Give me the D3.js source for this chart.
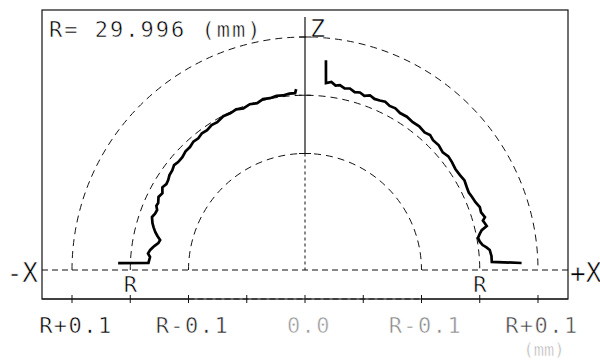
<!DOCTYPE html>
<html>
<head>
<meta charset="utf-8">
<script src="https://cdn.jsdelivr.net/npm/d3@7"></script>
<style>
  body { margin: 0; background: #fff; }
  text { font-family: 'DejaVu Sans Mono', monospace; stroke: #fff; stroke-width: 0.55px; }
</style>
</head>
<body>
<div id="chart"></div>
<script>
// radius of the part
const title = 'R= 29.996 (mm)';

// reference rings, deviation from R in mm
const rings = [0.1, 0, -0.1];

// bottom scale: signed position (mm from centre ring), label, colour of the scan
const xTicks = [-0.4, -0.3, -0.2, -0.1, 0, 0.1, 0.2, 0.3, 0.4];
const xLabels = ['R+0.1', 'R-0.1', '0.0', 'R-0.1', 'R+0.1'];
const xLabelPos = [-0.4, -0.2, 0, 0.2, 0.4];
const xLabelTone = ['#000', '#222', '#999', '#888', '#444'];

// measured profile, [angle deg from +X, deviation mm]
const leftProfile = [
  [177.9, 0.021], [177.4, -0.031], [175.2, -0.033], [174.0, -0.029], [172.6, -0.032],
  [171.0, -0.038], [169.6, -0.044], [168.3, -0.046], [167.0, -0.040], [165.8, -0.035],
  [164.3, -0.030], [162.9, -0.026], [160.9, -0.022], [159.4, -0.025], [157.9, -0.026],
  [156.6, -0.022], [155.5, -0.023], [153.5, -0.019], [151.7, -0.022], [149.9, -0.017],
  [148.2, -0.020], [146.7, -0.019], [145.0, -0.016], [143.1, -0.015], [141.3, -0.012],
  [139.6, -0.014], [137.4, -0.014], [135.2, -0.011], [133.1, -0.011], [131.0, -0.008],
  [129.0, -0.009], [127.0, -0.006], [125.0, -0.007], [122.8, -0.004], [120.7, -0.005],
  [118.0, -0.001], [115.5, -0.002], [113.2, 0.000], [110.9, -0.003], [108.4, 0.000],
  [106.0, -0.002], [103.8, 0.002], [101.5, 0.001], [99.3, 0.003], [97.2, 0.002],
  [95.1, 0.004], [93.2, 0.004], [92.8, 0.011]
];
const rightProfile = [
  [84.3, 0.062], [83.6, 0.023], [82.0, 0.026], [80.6, 0.021], [79.3, 0.023],
  [77.7, 0.019], [76.1, 0.021], [74.4, 0.017], [72.8, 0.019], [71.2, 0.016],
  [69.6, 0.020], [67.9, 0.017], [66.2, 0.018], [64.5, 0.020], [62.7, 0.017],
  [60.8, 0.018], [58.8, 0.015], [56.4, 0.016], [53.9, 0.014], [51.5, 0.015],
  [49.0, 0.013], [47.2, 0.016], [45.4, 0.013], [43.0, 0.014], [40.5, 0.011],
  [38.4, 0.014], [36.3, 0.013], [33.9, 0.011], [31.5, 0.012], [29.3, 0.014],
  [27.1, 0.012], [25.3, 0.011], [23.6, 0.013], [21.7, 0.015], [19.8, 0.019],
  [18.1, 0.018], [16.4, 0.022], [15.5, 0.017], [14.6, 0.019], [13.6, 0.021],
  [12.7, 0.011], [11.6, 0.006], [10.5, 0.002], [9.2, 0.004], [8.0, 0.008],
  [7.1, 0.014], [6.2, 0.019], [4.3, 0.021], [2.5, 0.021], [1.85, 0.072]
];

const width = 600, height = 360;
const frame = {left: 42, top: 10, right: 568, bottom: 299};
const cx = 305, cy = 270;

const svg = d3.select('#chart')
  .append('svg')
  .attr('width', width)
  .attr('height', height);

// deviation -> radius
const rScale = d3.scaleLinear().domain([-0.3, 0.1]).range([0, 233]);
// signed position along the X axis
const xScale = d3.scaleLinear().domain([-0.4, 0.4]).range([cx - 233, cx + 233]);

const toXY = d => {
  const a = d[0] * Math.PI / 180, r = rScale(d[1]);
  return [cx + r * Math.cos(a), cy - r * Math.sin(a)];
};

// frame
svg.append('rect')
  .attr('x', frame.left).attr('y', frame.top)
  .attr('width', frame.right - frame.left)
  .attr('height', frame.bottom - frame.top)
  .attr('fill', 'none').attr('stroke', '#111').attr('stroke-width', 1.2);

// rings
svg.selectAll('.ring')
  .data(rings)
  .enter()
  .append('path')
  .attr('class', 'ring')
  .attr('d', d => {
    const p = d3.path(), r = rScale(d);
    p.moveTo(cx - r, cy);
    p.arc(cx, cy, r, Math.PI, 2 * Math.PI);
    return p.toString();
  })
  .attr('fill', 'none').attr('stroke', '#111').attr('stroke-width', 1)
  .attr('stroke-dasharray', '7,5');

// X base line
svg.append('line')
  .attr('x1', frame.left).attr('x2', frame.right)
  .attr('y1', cy).attr('y2', cy)
  .attr('stroke', '#111').attr('stroke-dasharray', '6,4');

// Z axis: solid above inner ring, dashed below
const innerTop = cy - rScale(-0.1);
svg.append('line')
  .attr('x1', cx).attr('x2', cx).attr('y1', 17).attr('y2', innerTop)
  .attr('stroke', '#111').attr('stroke-width', 1.2);
svg.append('line')
  .attr('x1', cx).attr('x2', cx).attr('y1', innerTop).attr('y2', cy)
  .attr('stroke', '#111').attr('stroke-dasharray', '3,3');
svg.selectAll('.ztick')
  .data(rings)
  .enter()
  .append('line')
  .attr('x1', cx - 6).attr('x2', cx + 6)
  .attr('y1', d => cy - rScale(d)).attr('y2', d => cy - rScale(d))
  .attr('stroke', '#111');

// bottom scale line
const by = frame.bottom;
svg.append('line')
  .attr('x1', frame.left).attr('x2', xScale(-0.2)).attr('y1', by).attr('y2', by)
  .attr('stroke', '#111').attr('stroke-width', 1.2);
svg.append('line')
  .attr('x1', xScale(-0.2)).attr('x2', xScale(0.2)).attr('y1', by).attr('y2', by)
  .attr('stroke', '#111').attr('stroke-dasharray', '6,3');
svg.append('line')
  .attr('x1', xScale(0.2)).attr('x2', frame.right).attr('y1', by).attr('y2', by)
  .attr('stroke', '#111').attr('stroke-width', 1.2);
svg.selectAll('.xtick')
  .data(xTicks)
  .enter()
  .append('line')
  .attr('x1', d => xScale(d)).attr('x2', d => xScale(d))
  .attr('y1', by - 4).attr('y2', by + 4)
  .attr('stroke', '#111');

svg.selectAll('.xlabel')
  .data(xLabels)
  .enter()
  .append('text')
  .attr('x', (d, i) => xScale(xLabelPos[i]) + 4)
  .attr('y', 333)
  .attr('text-anchor', 'middle')
  .attr('font-size', 22)
  .attr('letter-spacing', 1.5)
  .attr('fill', (d, i) => xLabelTone[i])
  .text(d => d);

svg.append('text')
  .attr('x', 544).attr('y', 356)
  .attr('text-anchor', 'middle')
  .attr('font-size', 17)
  .attr('fill', '#aaa')
  .text('(mm)');

// R markers under the base line
svg.selectAll('.rmark')
  .data([-0.3, 0.3])
  .enter()
  .append('text')
  .attr('x', d => xScale(d))
  .attr('y', 292)
  .attr('text-anchor', 'middle')
  .attr('font-size', 22)
  .attr('fill', '#000')
  .text('R');

// profile
const line = d3.line().x(d => toXY(d)[0]).y(d => toXY(d)[1]);
svg.selectAll('.profile')
  .data([leftProfile, rightProfile])
  .enter()
  .append('path')
  .attr('class', 'profile')
  .attr('d', line)
  .attr('fill', 'none')
  .attr('stroke', '#000')
  .attr('stroke-width', 2.7)
  .attr('stroke-linejoin', 'miter');

// texts
svg.append('text')
  .attr('x', 49).attr('y', 37)
  .attr('font-size', 22)
  .attr('letter-spacing', 2)
  .attr('fill', '#000')
  .attr('xml:space', 'preserve')
  .style('white-space', 'pre')
  .text(title);

svg.append('text')
  .attr('x', 310).attr('y', 37)
  .attr('font-size', 25)
  .attr('fill', '#000')
  .text('Z');

svg.append('text')
  .attr('x', 38).attr('y', 282)
  .attr('text-anchor', 'end')
  .attr('font-size', 26)
  .attr('fill', '#000')
  .text('-X');

svg.append('text')
  .attr('x', 570).attr('y', 282)
  .attr('font-size', 26)
  .attr('fill', '#000')
  .text('+X');
</script>
</body>
</html>
